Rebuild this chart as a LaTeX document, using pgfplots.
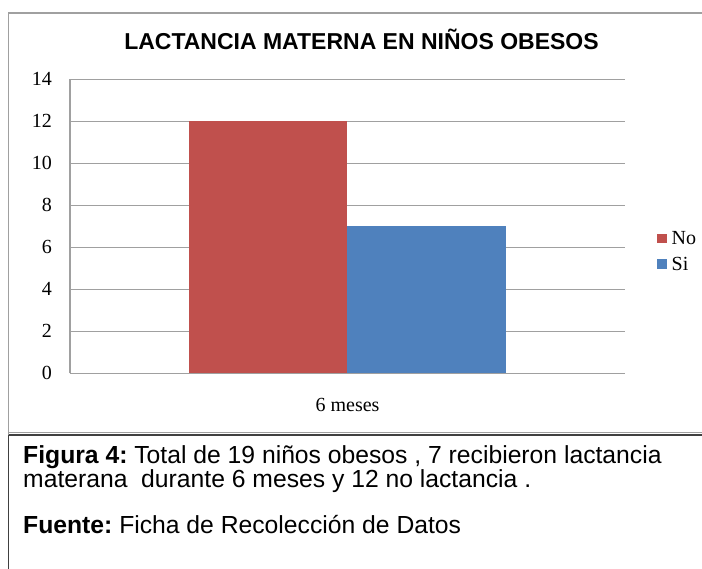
\documentclass[border=0pt]{standalone}
\usepackage{fontspec}
\setmainfont{Liberation Serif}
\newfontfamily\arialf{Liberation Sans}
\usepackage{pgfplots}
\pgfplotsset{compat=1.18}
\definecolor{barred}{HTML}{C0504D}
\definecolor{barblue}{HTML}{4F81BD}
\definecolor{gridg}{HTML}{A0A0A0}
\definecolor{darkl}{HTML}{404040}
\begin{document}
\begin{tikzpicture}[x=1pt,y=1pt]
\path[use as bounding box] (0,0) rectangle (702,569);
% frames
\fill[gridg] (8,555.2) rectangle (702,556.8);
\draw[gridg, line width=1.3pt] (8.7,134) -- (8.7,556.7);
\draw[darkl, line width=1.3pt] (8.7,134) -- (8.7,0);
\draw[gridg, line width=1pt] (8.7,136.5) -- (702,136.5);
\draw[darkl, line width=2pt] (8.7,134) -- (702,134);
% title
\node[anchor=base, inner sep=0pt, font=\arialf\bfseries\fontsize{23}{27}\selectfont] at (361.5,519) {LACTANCIA MATERNA EN NIÑOS OBESOS};
\begin{axis}[
  at={(70pt,195.7pt)}, anchor=south west,
  scale only axis, width=555pt, height=294pt,
  xmin=0, xmax=1, ymin=0, ymax=14,
  ytick={0,2,...,14},
  xtick={0.5}, xticklabels={6 meses},
  axis x line=bottom, axis y line=left,
  axis line style={-, gridg, line width=1.3pt},
  ymajorgrids, grid style={gridg, line width=1.3pt},
  major tick length=0pt,
  tick style={draw=none},
  /pgf/number format/assume math mode=true,
  ticklabel style={font=\fontsize{20}{24}\selectfont, text=black},
  yticklabel style={anchor=east, inner sep=0pt, xshift=-18pt},
  xticklabel style={anchor=base, inner sep=0pt, yshift=-38.7pt},
  ybar, bar width=0.2855, bar shift=0pt,
  clip=false,
  legend image code/.code={\fill[#1] (0pt,-4.75pt) rectangle (9.5pt,4.75pt);},
  legend style={at={(rel axis cs:1.0577,0.484)}, anchor=north west, draw=none, fill=none,
    inner sep=0pt, font=\fontsize{20}{24}\selectfont, row sep=11pt,
    nodes={inner sep=0pt, anchor=west}},
  legend cell align=left,
  /tikz/every even column/.append style={column sep=0pt},
]
\addplot[fill=barred, draw=none] coordinates {(0.3568,12)};
\addplot[fill=barblue, draw=none] coordinates {(0.6423,7)};
\legend{\hspace{5pt}No,\hspace{5pt}Si}
\end{axis}
% caption
\begin{scope}[every node/.style={anchor=base west, inner sep=0pt, font=\arialf\fontsize{24.7}{29}\selectfont}]
\node at (23,105) {\textbf{Figura 4:}\ Total de 19 niños obesos , 7 recibieron lactancia};
\node at (23,81) {materana\ \ durante 6 meses y 12 no lactancia .};
\node at (23,35) {\textbf{Fuente:}\ Ficha de Recolección de Datos};
\end{scope}
\end{tikzpicture}
\end{document}
